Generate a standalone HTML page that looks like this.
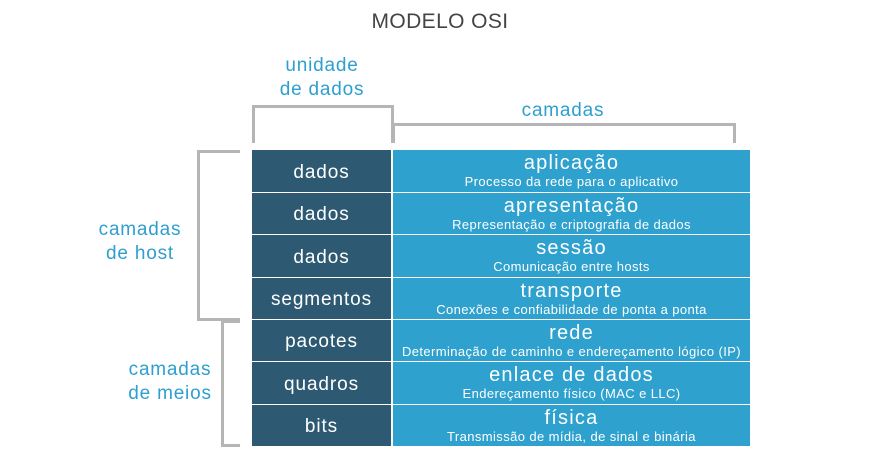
<!DOCTYPE html>
<html><head><meta charset="utf-8"><style>
*{box-sizing:border-box}
body{margin:0;width:880px;height:468px;background:#fff;font-family:"Liberation Sans",sans-serif;position:relative;overflow:hidden}
.a{position:absolute}
.t{color:#2e9fcf;text-align:center;font-size:19px;line-height:24px;letter-spacing:0.8px}
.l{position:absolute;left:252px;width:139px;background:#2d5a72;color:#fff;font-size:19px;letter-spacing:0.9px;display:flex;align-items:center;justify-content:center;padding-top:3px}
.r{position:absolute;left:393px;width:357px;background:#2ea1ce;color:#fff;text-align:center}
.r b{display:block;font-weight:normal;font-size:20px;letter-spacing:1.2px;line-height:20px;margin-top:3px}
.r i{display:block;font-style:normal;font-size:13px;letter-spacing:0.4px;line-height:17px}
.g{position:absolute;border-color:#b5b5b5;border-style:solid;border-width:0}
</style></head><body>
<div class="a" style="left:0;width:880px;top:10px;text-align:center;font-size:21px;color:#444;letter-spacing:0.4px">MODELO OSI</div>
<div class="a t" style="left:252px;width:140px;top:54px">unidade<br>de dados</div>
<div class="a t" style="left:393px;width:340px;top:99px">camadas</div>
<div class="a t" style="left:80px;width:120px;top:218px">camadas<br>de host</div>
<div class="a t" style="left:110px;width:120px;top:358px">camadas<br>de meios</div>
<div class="g" style="left:252px;top:105px;width:142px;height:38px;border-width:3px 3px 0 3px"></div>
<div class="g" style="left:392px;top:123px;width:344px;height:20px;border-width:3px 3px 0 3px"></div>
<div class="g" style="left:197px;top:150px;width:43px;height:171px;border-width:3px 0 3px 3px"></div>
<div class="g" style="left:221px;top:320px;width:19px;height:127px;border-width:3px 0 3px 3px"></div>
<div class="l" style="top:150px;height:42px">dados</div>
<div class="l" style="top:193px;height:41px">dados</div>
<div class="l" style="top:235px;height:42px">dados</div>
<div class="l" style="top:278px;height:41px">segmentos</div>
<div class="l" style="top:320px;height:41px">pacotes</div>
<div class="l" style="top:362px;height:42px">quadros</div>
<div class="l" style="top:405px;height:41px">bits</div>
<div class="r" style="top:150px;height:42px"><b>aplicação</b><i>Processo da rede para o aplicativo</i></div>
<div class="r" style="top:193px;height:41px"><b>apresentação</b><i>Representação e criptografia de dados</i></div>
<div class="r" style="top:235px;height:42px"><b>sessão</b><i>Comunicação entre hosts</i></div>
<div class="r" style="top:278px;height:41px"><b>transporte</b><i>Conexões e confiabilidade de ponta a ponta</i></div>
<div class="r" style="top:320px;height:41px"><b>rede</b><i>Determinação de caminho e endereçamento lógico (IP)</i></div>
<div class="r" style="top:362px;height:42px"><b>enlace de dados</b><i>Endereçamento físico (MAC e LLC)</i></div>
<div class="r" style="top:405px;height:41px"><b>física</b><i>Transmissão de mídia, de sinal e binária</i></div>
</body></html>
